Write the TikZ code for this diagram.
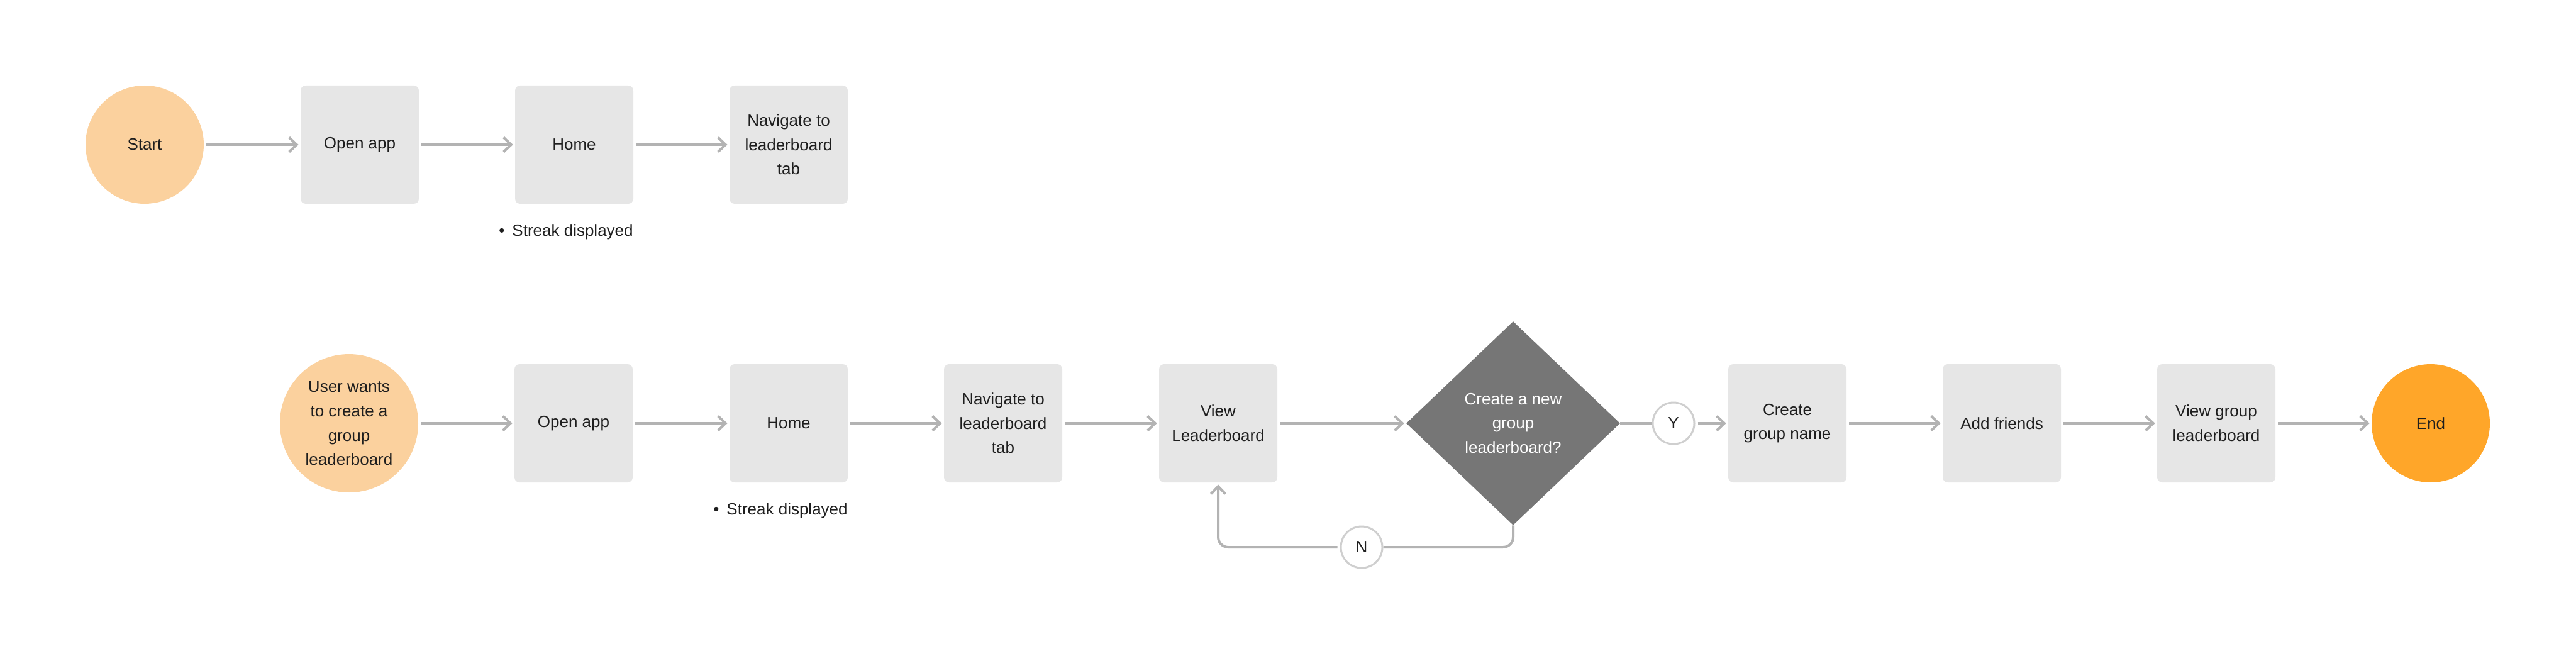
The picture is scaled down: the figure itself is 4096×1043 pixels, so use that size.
\documentclass[tikz,border=0pt]{standalone}
\usepackage{fontspec}
\setmainfont{Liberation Sans}
\usetikzlibrary{arrows.meta,shapes.geometric}

\definecolor{ink}{HTML}{1E1E1E}
\definecolor{peach}{HTML}{FBD19E}
\definecolor{endorange}{HTML}{FFA629}
\definecolor{boxgray}{HTML}{E6E6E6}
\definecolor{askgray}{HTML}{767676}
\definecolor{linegray}{HTML}{B3B3B3}
\definecolor{ringgray}{HTML}{CFCFCF}

\begin{document}
\begin{tikzpicture}[x=0.5pt,y=-0.5pt,
  font=\fontsize{13pt}{19.3pt}\selectfont, text=ink,
  stepbox/.style={rectangle, rounded corners=4pt, fill=boxgray, minimum width=94pt, minimum height=94pt, inner sep=0pt, align=center},
  terminal/.style={circle, fill=peach, minimum size=94pt, inner sep=0pt, align=center},
  choice/.style={diamond, fill=askgray, text=white, aspect=1.05, minimum width=170pt, minimum height=162pt, inner sep=0pt, align=center},
  answer/.style={circle, draw=ringgray, line width=1.5pt, fill=white, minimum size=33pt, inner sep=0pt},
  flow/.style={draw=linegray, line width=2pt, -{Straight Barb[length=6pt, width=11.5pt]}, shorten <=2pt, shorten >=1.5pt},
  link/.style={draw=linegray, line width=2pt},
  note/.style={inner sep=0pt}]
\useasboundingbox (0,0) rectangle (4096,1043);

% first flow
\node[terminal] (start) at (230,230) {Start};
\node[stepbox] (open1) at (572,230) {Open app};
\node[stepbox] (home1) at (913,230) {Home};
\node[stepbox] (nav1) at (1254,230) {Navigate to\\leaderboard\\tab};
\node[note] (streak1) at ([shift={(-6.5pt,-22pt)}]home1.south) {\textbullet\hspace{6pt}Streak displayed};

\draw[flow] (start) -- (open1);
\draw[flow] (open1) -- (home1);
\draw[flow] (home1) -- (nav1);

% second flow
\node[terminal, minimum size=110pt] (user) at (555,673) {User wants\\to create a\\group\\leaderboard};
\node[stepbox] (open2) at (912,673) {Open app};
\node[stepbox] (home2) at (1254,673) {Home};
\node[note] (streak2) at ([shift={(-6.5pt,-22pt)}]home2.south) {\textbullet\hspace{6pt}Streak displayed};
\node[stepbox] (nav2) at (1595,673) {Navigate to\\leaderboard\\tab};
\node[stepbox] (view) at (1937,673) {View\\Leaderboard};
\node[choice] (ask) at (2406,673) {Create a new\\group\\leaderboard?};
\node[answer] (yes) at (2661,673) {Y};
\node[answer] (no) at (2165,870) {N};
\node[stepbox] (name) at (2842,673) {Create\\group name};
\node[stepbox] (friends) at (3183,673) {Add friends};
\node[stepbox] (group) at (3524,673) {View group\\leaderboard};
\node[terminal, fill=endorange] (finish) at (3865,673) {End};

\draw[flow] (user) -- (open2);
\draw[flow] (open2) -- (home2);
\draw[flow] (home2) -- (nav2);
\draw[flow] (nav2) -- (view);
\draw[flow] (view) -- (ask);
\draw[link] (ask) -- (yes);
\draw[flow] (yes) -- (name);
\draw[flow] (name) -- (friends);
\draw[flow] (friends) -- (group);
\draw[flow] (group) -- (finish);
\draw[link, rounded corners=8pt] (ask.south) |- (no.east);
\draw[flow, rounded corners=8pt] (no.west) -| (view.south);
\end{tikzpicture}
\end{document}
